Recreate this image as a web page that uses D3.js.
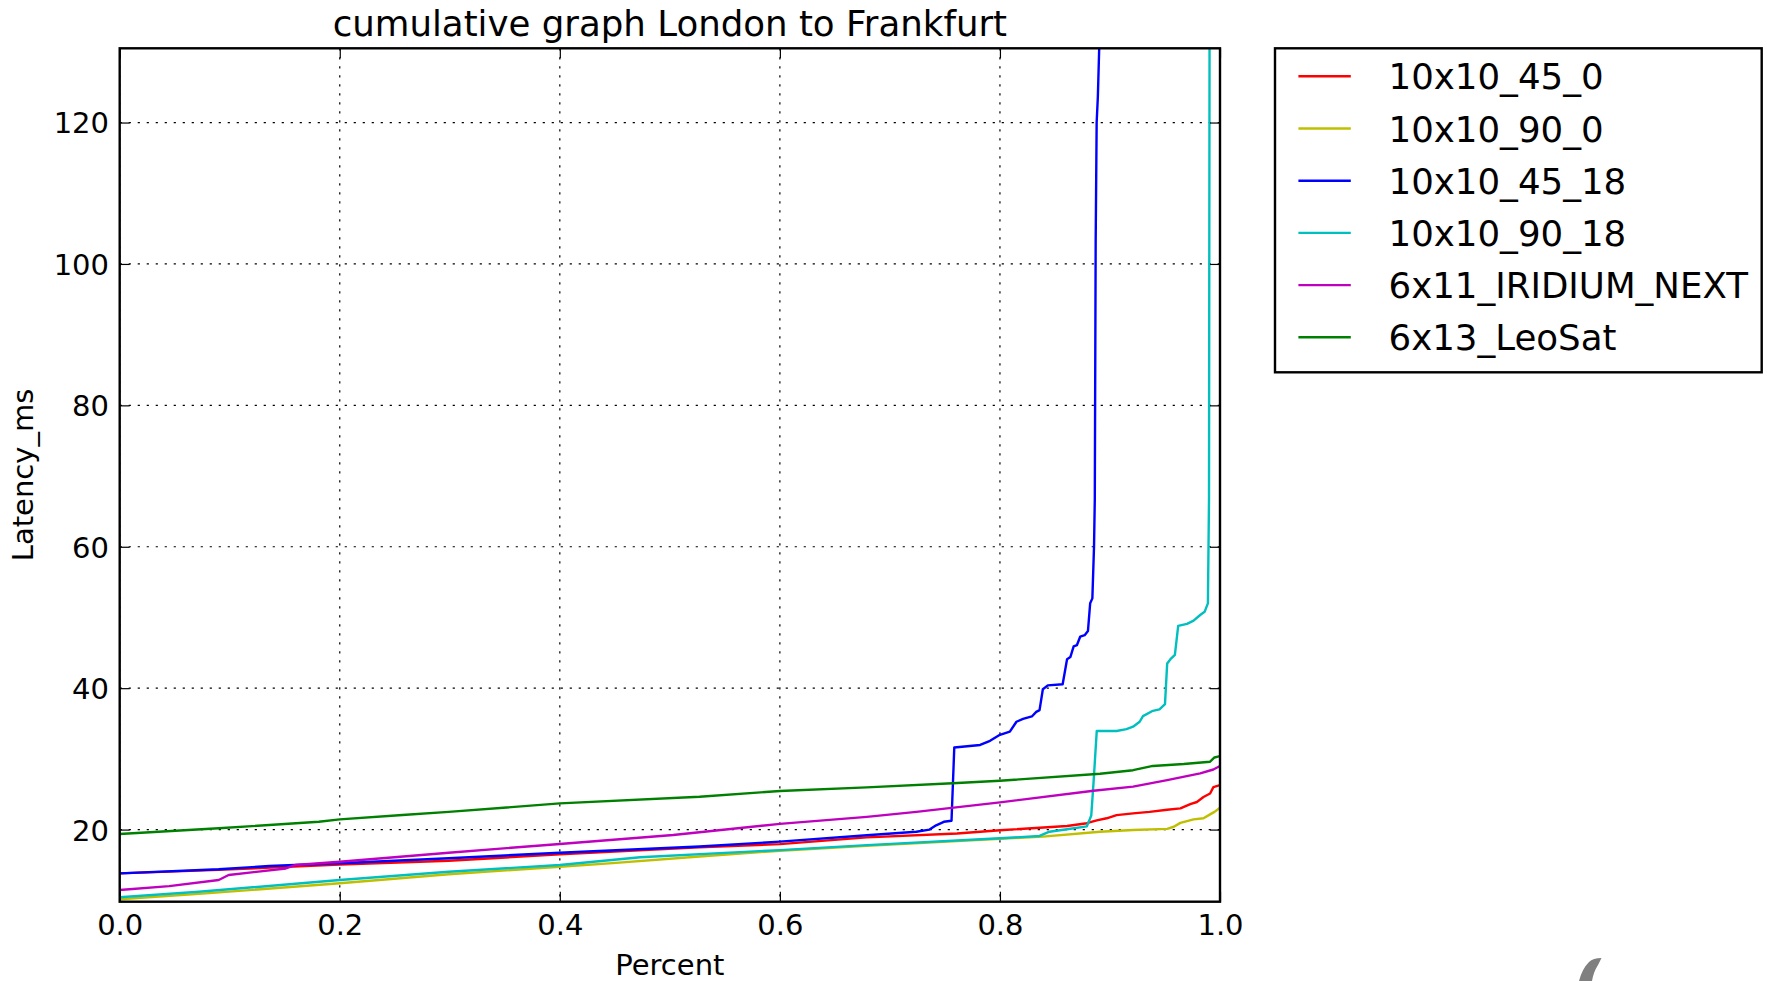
<!DOCTYPE html>
<html>
<head>
<meta charset="utf-8">
<script src="https://cdn.jsdelivr.net/npm/d3@7"></script>
<style>
  html, body { margin: 0; padding: 0; background: #ffffff; }
  svg { display: block; font-family: "DejaVu Sans", sans-serif; }
</style>
</head>
<body>
<svg id="chart" width="1767" height="981"></svg>
<script>
// ---------------- data ----------------
const title = "cumulative graph London to Frankfurt";
const xLabel = "Percent";
const yLabel = "Latency_ms";
const xTicks = [0.0, 0.2, 0.4, 0.6, 0.8, 1.0];
const yTicks = [20, 40, 60, 80, 100, 120];
const seriesNames = ["10x10_45_0", "10x10_90_0", "10x10_45_18", "10x10_90_18", "6x11_IRIDIUM_NEXT", "6x13_LeoSat"];
const seriesColors = ["#ff0000", "#bfbf00", "#0000ff", "#00bfbf", "#bf00bf", "#008000"];

// [percent, latency_ms]
const s10x10_45_0 = [
  [0, 13.8], [0.09, 14.3], [0.2, 15.05], [0.299, 15.6], [0.4, 16.5], [0.527, 17.5],
  [0.6, 17.95], [0.679, 18.9], [0.761, 19.45], [0.8, 19.9], [0.861, 20.5], [0.879, 20.9],
  [0.888, 21.3], [0.897, 21.6], [0.906, 22.05], [0.921, 22.3], [0.936, 22.5], [0.952, 22.8],
  [0.964, 23.0], [0.973, 23.6], [0.979, 23.9], [0.985, 24.6], [0.991, 25.1], [0.994, 26.0], [1.0, 26.3]
];
const s10x10_90_0 = [
  [0, 10.15], [0.072, 10.9], [0.2, 12.4], [0.299, 13.68], [0.4, 14.75], [0.448, 15.25],
  [0.527, 16.2], [0.6, 17.0], [0.679, 17.7], [0.8, 18.7], [0.839, 19.0], [0.891, 19.7],
  [0.921, 19.95], [0.952, 20.1], [0.958, 20.4], [0.964, 20.95], [0.976, 21.45], [0.985, 21.6],
  [0.991, 22.15], [0.995, 22.5], [1.0, 23.1]
];
const s10x10_45_18 = [
  [0, 13.8], [0.09, 14.38], [0.136, 14.85], [0.2, 15.23], [0.299, 15.94], [0.4, 16.73],
  [0.527, 17.6], [0.6, 18.3], [0.679, 19.2], [0.724, 19.7], [0.736, 20.0], [0.742, 20.6],
  [0.749, 21.1], [0.756, 21.25], [0.7585, 31.6], [0.782, 31.97], [0.791, 32.55], [0.8, 33.4],
  [0.809, 33.85], [0.815, 35.25], [0.821, 35.65], [0.829, 36.0], [0.833, 36.65], [0.836, 36.9],
  [0.839, 39.85], [0.8435, 40.4], [0.857, 40.55], [0.861, 44.1], [0.864, 44.4], [0.867, 45.9],
  [0.870, 46.1], [0.873, 47.3], [0.877, 47.5], [0.880, 48.1], [0.882, 52.0], [0.884, 52.7],
  [0.8855, 60], [0.8862, 66.6], [0.8870, 103], [0.8879, 120], [0.889, 123.7], [0.8903, 131]
];
const s10x10_90_18 = [
  [0, 10.42], [0.072, 11.2], [0.121, 11.84], [0.2, 12.87], [0.299, 14.04], [0.4, 15.0],
  [0.473, 16.08], [0.6, 17.1], [0.679, 17.8], [0.8, 18.77], [0.836, 19.1], [0.845, 19.7],
  [0.861, 20.04], [0.879, 20.45], [0.883, 22.0], [0.885, 26.5], [0.888, 33.95], [0.906, 33.95],
  [0.915, 34.2], [0.921, 34.55], [0.927, 35.25], [0.930, 36.05], [0.939, 36.8], [0.945, 37.0],
  [0.950, 37.75], [0.952, 43.5], [0.955, 44.1], [0.959, 44.7], [0.962, 48.8], [0.970, 49.1],
  [0.976, 49.55], [0.982, 50.35], [0.986, 50.8], [0.989, 52.0], [0.990, 66.6], [0.9905, 131]
];
const s6x11_IRIDIUM_NEXT = [
  [0, 11.45], [0.045, 12.0], [0.09, 12.87], [0.099, 13.58], [0.151, 14.5], [0.16, 15.0],
  [0.2, 15.46], [0.299, 16.73], [0.4, 17.96], [0.503, 19.24], [0.6, 20.8], [0.679, 21.8],
  [0.724, 22.5], [0.8, 23.85], [0.885, 25.5], [0.921, 26.07], [0.952, 27.0], [0.982, 27.96],
  [0.994, 28.5], [1.0, 29.0]
];
const s6x13_LeoSat = [
  [0, 19.38], [0.09, 20.18], [0.181, 21.1], [0.2, 21.45], [0.257, 22.06], [0.299, 22.5],
  [0.4, 23.7], [0.527, 24.65], [0.6, 25.45], [0.679, 25.97], [0.757, 26.55], [0.8, 26.9],
  [0.891, 27.9], [0.921, 28.4], [0.939, 29.0], [0.967, 29.27], [0.991, 29.6], [0.995, 30.2],
  [1.0, 30.4]
];
const seriesData = [s10x10_45_0, s10x10_90_0, s10x10_45_18, s10x10_90_18, s6x11_IRIDIUM_NEXT, s6x13_LeoSat];

// ---------------- layout ----------------
const plot = { left: 119.7, right: 1220, top: 48.3, bottom: 901.7 };
const svg = d3.select("#chart");

const x = d3.scaleLinear().domain([0, 1]).range([plot.left, plot.right]);
const y = d3.scaleLinear().domain([9.8, 130.5]).range([plot.bottom, plot.top]);

// clip
svg.append("defs").append("clipPath").attr("id", "plotClip")
  .append("rect")
  .attr("x", plot.left).attr("y", plot.top)
  .attr("width", plot.right - plot.left).attr("height", plot.bottom - plot.top);

// grid
const grid = svg.append("g").attr("stroke", "#000").attr("stroke-width", 1.2)
  .attr("stroke-dasharray", "2.2,6.8").attr("fill", "none");
grid.selectAll("line.gx").data(xTicks).join("line").attr("class", "gx")
  .attr("x1", d => x(d)).attr("x2", d => x(d))
  .attr("y1", plot.top).attr("y2", plot.bottom);
grid.selectAll("line.gy").data(yTicks).join("line").attr("class", "gy")
  .attr("x1", plot.left).attr("x2", plot.right)
  .attr("y1", d => y(d)).attr("y2", d => y(d));

// lines
const line = d3.line().x(d => x(d[0])).y(d => y(d[1]));
svg.append("g").attr("clip-path", "url(#plotClip)")
  .selectAll("path").data(seriesData).join("path")
  .attr("d", d => line(d))
  .attr("fill", "none")
  .attr("stroke", (d, i) => seriesColors[i])
  .attr("stroke-width", 2.4)
  .attr("stroke-linejoin", "round")
  .attr("stroke-linecap", "butt");

// axes (ticks pointing inward, matplotlib classic style)
const fontTick = 29;
function styleAxis(g, showLabels) {
  g.select(".domain").remove();
  g.selectAll(".tick line").attr("stroke", "#000").attr("stroke-width", 1.2);
  g.selectAll(".tick text").attr("fill", "#000")
    .style("font-family", "'DejaVu Sans', sans-serif")
    .style("font-size", fontTick + "px");
  if (!showLabels) g.selectAll(".tick text").remove();
}
const fmt = d3.format(".1f");
svg.append("g").attr("transform", `translate(0,${plot.bottom})`)
  .call(d3.axisBottom(x).tickValues(xTicks).tickFormat(fmt).tickSize(-10).tickPadding(12.7))
  .call(g => styleAxis(g, true));
svg.append("g").attr("transform", `translate(0,${plot.top})`)
  .call(d3.axisTop(x).tickValues(xTicks).tickSize(-10))
  .call(g => styleAxis(g, false));
const yAxisG = svg.append("g").attr("transform", `translate(${plot.left},0)`)
  .call(d3.axisLeft(y).tickValues(yTicks).tickFormat(d3.format("d")).tickSize(-10).tickPadding(10.7))
  .call(g => styleAxis(g, true));
yAxisG.selectAll(".tick text").attr("dy", "0.36em");
svg.append("g").attr("transform", `translate(${plot.right},0)`)
  .call(d3.axisRight(y).tickValues(yTicks).tickSize(-10))
  .call(g => styleAxis(g, false));

// frame
svg.append("rect")
  .attr("x", plot.left).attr("y", plot.top)
  .attr("width", plot.right - plot.left).attr("height", plot.bottom - plot.top)
  .attr("fill", "none").attr("stroke", "#000").attr("stroke-width", 2.4);

// title & axis labels
svg.append("text").attr("x", (plot.left + plot.right) / 2).attr("y", 36)
  .attr("text-anchor", "middle").style("font-size", "35.6px").attr("fill", "#000")
  .text(title);
svg.append("text").attr("x", (plot.left + plot.right) / 2).attr("y", 975)
  .attr("text-anchor", "middle").style("font-size", "29px").attr("fill", "#000")
  .text(xLabel);
svg.append("text")
  .attr("transform", `translate(32.5,${(plot.top + plot.bottom) / 2}) rotate(-90)`)
  .attr("text-anchor", "middle").style("font-size", "29px").attr("fill", "#000")
  .text(yLabel);

// legend
const legend = { left: 1275, top: 48.3, right: 1761.7, bottom: 372.3, firstRow: 76.3, rowStep: 52.2 };
svg.append("rect")
  .attr("x", legend.left).attr("y", legend.top)
  .attr("width", legend.right - legend.left).attr("height", legend.bottom - legend.top)
  .attr("fill", "#fff").attr("stroke", "#000").attr("stroke-width", 2.4);
const rows = svg.append("g").selectAll("g").data(seriesNames).join("g")
  .attr("transform", (d, i) => `translate(0,${legend.firstRow + i * legend.rowStep})`);
rows.append("line").attr("x1", 1298.4).attr("x2", 1350.8).attr("y1", 0).attr("y2", 0)
  .attr("stroke", (d, i) => seriesColors[i]).attr("stroke-width", 2.4);
rows.append("text").attr("x", 1388.5).attr("y", 13)
  .style("font-size", "35.6px").attr("fill", "#000").text(d => d);

// stray grey mark at bottom right of the reference screenshot
svg.append("path")
  .attr("d", "M1589,962 Q1593,958 1601.5,958 L1598,965 Q1593.5,972 1592,981 L1579,981 Q1582,969 1589,962 Z")
  .attr("fill", "#808080");
</script>
</body>
</html>
